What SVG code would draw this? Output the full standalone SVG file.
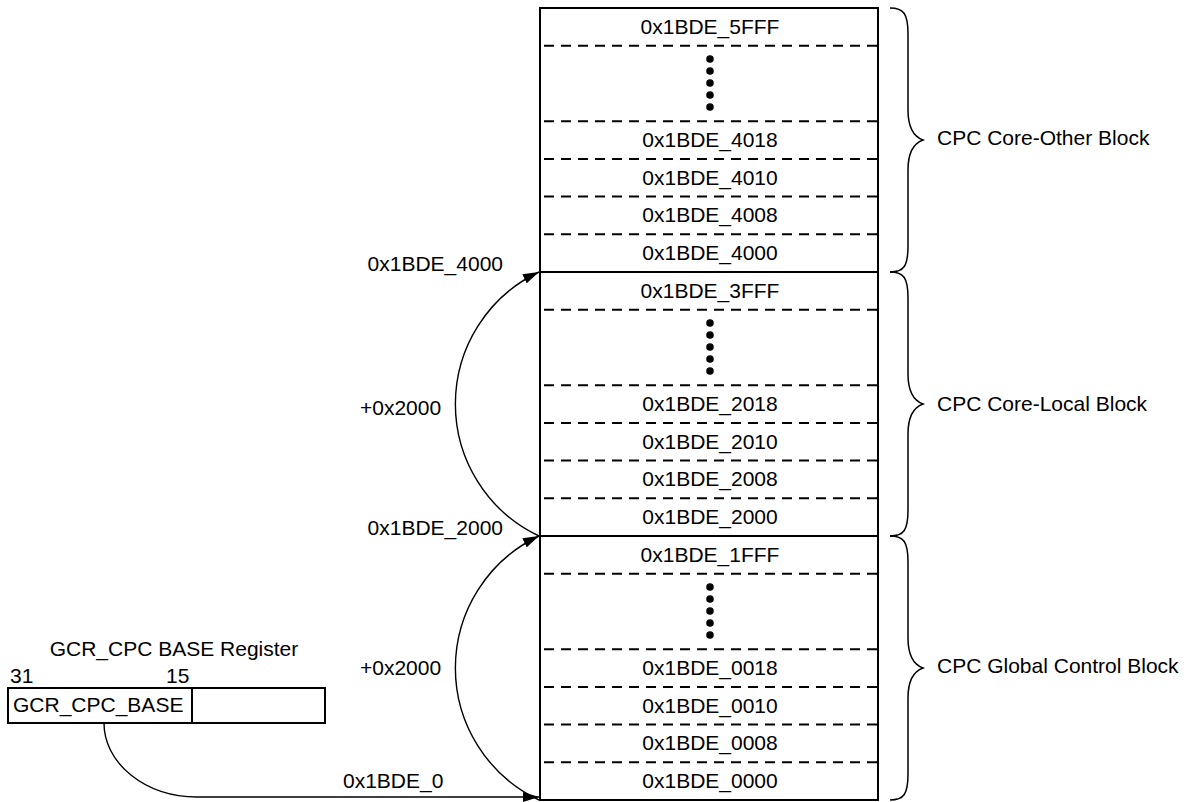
<svg xmlns="http://www.w3.org/2000/svg" width="1199" height="802" viewBox="0 0 1199 802">
<style>
text{font-family:"Liberation Sans",Arial,sans-serif;font-size:21px;fill:#000}
.c{text-anchor:middle}
.r{text-anchor:end}
.box{fill:none;stroke:#000;stroke-width:2}
.dash{stroke:#000;stroke-width:2;stroke-dasharray:10 7}
.sep{stroke:#000;stroke-width:2}
.brace{fill:none;stroke:#000;stroke-width:1.5}
.conn{fill:none;stroke:#000;stroke-width:1.4}
</style>
<defs>
<marker id="ah" markerUnits="userSpaceOnUse" markerWidth="17" markerHeight="10" refX="16" refY="5" orient="auto">
<path d="M0,0 L16,5 L0,10 z" fill="#000"/>
</marker>
<g id="dots"><circle cx="0" cy="0" r="3.8"/><circle cx="0" cy="12" r="3.8"/><circle cx="0" cy="24" r="3.8"/><circle cx="0" cy="36" r="3.8"/><circle cx="0" cy="48" r="3.8"/></g>
</defs>
<rect width="1199" height="802" fill="#fff"/>

<g id="memory-map">
<rect class="box" x="540" y="8" width="338" height="792"/>
<line class="sep" x1="540" y1="272" x2="878" y2="272"/>
<line class="sep" x1="540" y1="536" x2="878" y2="536"/>
</g>

<g id="core-other-block">
<line class="dash" x1="544" y1="45.7" x2="878" y2="45.7"/>
<line class="dash" x1="544" y1="121.2" x2="878" y2="121.2"/>
<line class="dash" x1="544" y1="158.9" x2="878" y2="158.9"/>
<line class="dash" x1="544" y1="196.6" x2="878" y2="196.6"/>
<line class="dash" x1="544" y1="234.3" x2="878" y2="234.3"/>
<text class="c" x="710" y="34">0x1BDE_5FFF</text>
<use href="#dots" x="710" y="59"/>
<text class="c" x="710" y="147">0x1BDE_4018</text>
<text class="c" x="710" y="185">0x1BDE_4010</text>
<text class="c" x="710" y="222">0x1BDE_4008</text>
<text class="c" x="710" y="260">0x1BDE_4000</text>
<path class="brace" d="M890,8 C904,8 908,14 908,34 L908,110 C908,126 912,136 923,140 C912,144 908,154 908,170 L908,246 C908,266 904,272 890,272"/>
<text x="937" y="145">CPC Core-Other Block</text>
</g>

<g id="core-local-block">
<line class="dash" x1="544" y1="309.7" x2="878" y2="309.7"/>
<line class="dash" x1="544" y1="385.2" x2="878" y2="385.2"/>
<line class="dash" x1="544" y1="422.9" x2="878" y2="422.9"/>
<line class="dash" x1="544" y1="460.6" x2="878" y2="460.6"/>
<line class="dash" x1="544" y1="498.3" x2="878" y2="498.3"/>
<text class="c" x="710" y="298">0x1BDE_3FFF</text>
<use href="#dots" x="710" y="323"/>
<text class="c" x="710" y="411">0x1BDE_2018</text>
<text class="c" x="710" y="449">0x1BDE_2010</text>
<text class="c" x="710" y="486">0x1BDE_2008</text>
<text class="c" x="710" y="524">0x1BDE_2000</text>
<path class="brace" d="M890,272 C904,272 908,278 908,298 L908,374 C908,390 912,400 923,404 C912,408 908,418 908,434 L908,510 C908,530 904,536 890,536"/>
<text x="937" y="411">CPC Core-Local Block</text>
</g>

<g id="global-control-block">
<line class="dash" x1="544" y1="573.7" x2="878" y2="573.7"/>
<line class="dash" x1="544" y1="649.2" x2="878" y2="649.2"/>
<line class="dash" x1="544" y1="686.9" x2="878" y2="686.9"/>
<line class="dash" x1="544" y1="724.6" x2="878" y2="724.6"/>
<line class="dash" x1="544" y1="762.3" x2="878" y2="762.3"/>
<text class="c" x="710" y="562">0x1BDE_1FFF</text>
<use href="#dots" x="710" y="587"/>
<text class="c" x="710" y="675">0x1BDE_0018</text>
<text class="c" x="710" y="713">0x1BDE_0010</text>
<text class="c" x="710" y="750">0x1BDE_0008</text>
<text class="c" x="710" y="788">0x1BDE_0000</text>
<path class="brace" d="M890,536 C904,536 908,542 908,562 L908,638 C908,654 912,664 923,668 C912,672 908,682 908,698 L908,774 C908,794 904,800 890,800"/>
<text x="937" y="673">CPC Global Control Block</text>
</g>

<g id="register">
<text class="c" x="174" y="656">GCR_CPC BASE Register</text>
<text x="10" y="683">31</text>
<text x="166" y="683">15</text>
<rect class="box" x="8" y="688" width="317" height="35"/>
<line class="sep" x1="192" y1="688" x2="192" y2="723"/>
<text x="13" y="712">GCR_CPC_BASE</text>
</g>

<g id="connectors">
<path class="conn" d="M104,723 A93,74 0 0 0 197,797"/>
<line class="conn" x1="197" y1="797" x2="539" y2="797" stroke-width="2" marker-end="url(#ah)"/>
<path class="conn" d="M539,800 A146,146 0 0 1 539,536" marker-end="url(#ah)"/>
<path class="conn" d="M539,536 A146,146 0 0 1 539,272" marker-end="url(#ah)"/>
</g>

<g id="labels">
<text class="r" x="503" y="271">0x1BDE_4000</text>
<text class="r" x="503" y="535">0x1BDE_2000</text>
<text x="360" y="415">+0x2000</text>
<text x="360" y="675">+0x2000</text>
<text x="343" y="788">0x1BDE_0</text>
</g>
</svg>
